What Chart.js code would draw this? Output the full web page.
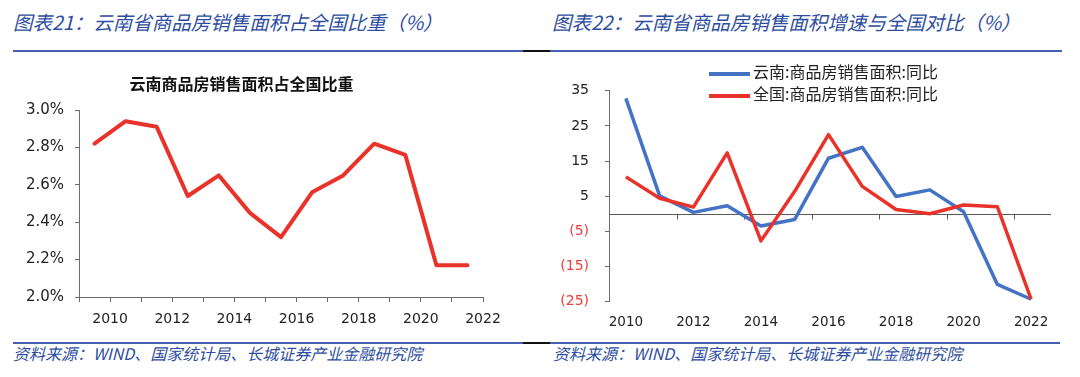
<!DOCTYPE html>
<html>
<head>
<meta charset="utf-8">
<script src="https://cdn.jsdelivr.net/npm/chart.js@4.4.0/dist/chart.umd.min.js"></script>
<style>
  body { margin: 0; background: #fff; width: 1080px; height: 377px; overflow: hidden; position: relative; font-family: "Noto Sans CJK SC", sans-serif; }
  .hd { position: absolute; top: 8px; font-size: 19.5px; font-style: italic; color: #2d4e9f; white-space: nowrap; line-height: 28px; }
  .src { position: absolute; top: 342px; font-size: 16px; font-style: italic; color: #2d4e9f; white-space: nowrap; line-height: 22px; }
  .rule { position: absolute; height: 2px; }
  canvas { position: absolute; }
  .lg { position: absolute; left: 709px; top: 60px; font-size: 16px; color: #222; white-space: nowrap; line-height: 22px; }
  .lg i { display: inline-block; width: 41px; height: 4px; vertical-align: middle; margin-right: 3px; }
</style>
</head>
<body>
<div class="hd" style="left:13px">图表21：云南省商品房销售面积占全国比重（%）</div>
<div class="hd" style="left:552px">图表22：云南省商品房销售面积增速与全国对比（%）</div>

<div class="rule" style="top:50px;left:13px;width:510px;background:#4460ae"></div>
<div class="rule" style="top:50px;left:523px;width:27px;background:#111"></div>
<div class="rule" style="top:50px;left:550px;width:512px;background:#4460ae"></div>

<canvas id="c1" width="540" height="270" style="left:0;top:60px"></canvas>
<canvas id="c2" width="540" height="280" style="left:540px;top:60px"></canvas>

<div class="lg">
  <div><i style="background:#4472c4"></i>云南:商品房销售面积:同比</div>
  <div><i style="background:#e8322a"></i>全国:商品房销售面积:同比</div>
</div>

<div class="rule" style="top:342px;left:13px;width:510px;background:#4460ae"></div>
<div class="rule" style="top:342px;left:523px;width:27px;background:#111"></div>
<div class="rule" style="top:342px;left:550px;width:510px;background:#4460ae"></div>
<div class="src" style="left:13px">资料来源：WIND、国家统计局、长城证券产业金融研究院</div>
<div class="src" style="left:553px">资料来源：WIND、国家统计局、长城证券产业金融研究院</div>

<script>
// 左图：云南商品房销售面积占全国比重（%）
const yearsL = [2010, 2011, 2012, 2013, 2014, 2015, 2016, 2017, 2018, 2019, 2020, 2021, 2022];
const shareYN = [2.82, 2.94, 2.91, 2.54, 2.65, 2.45, 2.32, 2.56, 2.65, 2.82, 2.76, 2.17, 2.17];
const yTicksL = [2.0, 2.2, 2.4, 2.6, 2.8, 3.0];
const xLabelsL = [2010, 2012, 2014, 2016, 2018, 2020, 2022];

// 右图：云南与全国商品房销售面积同比（%）
const yearsR = [2010, 2011, 2012, 2013, 2014, 2015, 2016, 2017, 2018, 2019, 2020, 2021, 2022];
const ynYoY = [32.8, 5.1, 0.4, 2.3, -3.5, -1.6, 15.8, 18.9, 4.9, 6.8, 0.6, -20.1, -24.3];
const cnYoY = [10.5, 4.4, 1.9, 17.3, -7.7, 6.4, 22.5, 7.8, 1.2, 0.0, 2.5, 2.0, -24.3];
const yTicksR = [-25, -15, -5, 5, 15, 25, 35];
const xLabelsR = [2010, 2012, 2014, 2016, 2018, 2020, 2022];

const RED = '#e8322a';
const BLUE = '#4472c4';
const AXIS = '#6b6b6b';
const NUM_FONT = 'DejaVu Sans';

new Chart(document.getElementById('c1'), {
  type: 'line',
  data: {
    datasets: [{
      // 点落在年份刻度之间
      data: yearsL.map((y, i) => ({ x: y - 0.5, y: shareYN[i] })),
      borderColor: RED,
      borderWidth: 4,
      pointRadius: 0,
      tension: 0,
      borderJoinStyle: 'round',
      borderCapStyle: 'round'
    }]
  },
  options: {
    responsive: false,
    animation: false,
    layout: { padding: { left: 0, right: 57, top: 0, bottom: 0 } },
    plugins: {
      legend: { display: false },
      tooltip: { enabled: false },
      title: {
        display: true,
        text: '云南商品房销售面积占全国比重',
        color: '#111',
        font: { family: 'Noto Sans CJK SC', size: 16, weight: 'bold' },
        padding: { top: 14.4, bottom: 16.4 }
      }
    },
    scales: {
      x: {
        type: 'linear',
        min: 2009,
        max: 2022,
        ticks: {
          stepSize: 1,
          autoSkip: false,
          maxRotation: 0,
          padding: 9,
          color: '#222',
          font: { family: NUM_FONT, size: 14 },
          callback: v => xLabelsL.includes(v) ? String(v) : ''
        },
        grid: { drawOnChartArea: false, tickLength: 5, tickColor: AXIS },
        border: { color: AXIS },
        afterFit: s => { s.height = 33; }
      },
      y: {
        min: 2.0,
        max: 3.0,
        afterBuildTicks: s => { s.ticks = yTicksL.map(v => ({ value: v })); },
        ticks: {
          padding: 11,
          color: '#222',
          font: { family: NUM_FONT, size: 15 },
          callback: v => v.toFixed(1) + '%'
        },
        grid: { drawOnChartArea: false, tickLength: 4, tickColor: AXIS },
        border: { color: AXIS },
        afterFit: s => { s.width = 79; }
      }
    }
  }
});

// 零线和零线上的小刻度
const zeroLine = {
  id: 'zeroLine',
  beforeDatasetsDraw(chart) {
    const { ctx, chartArea, scales: { x, y } } = chart;
    const y0 = Math.round(y.getPixelForValue(0)) + 0.5;
    ctx.save();
    ctx.strokeStyle = '#595959';
    ctx.lineWidth = 1;
    ctx.beginPath();
    ctx.moveTo(chartArea.left, y0);
    ctx.lineTo(chartArea.right + 3, y0);
    for (let v = 2011.5; v < 2022.5; v += 2) {
      const px = Math.round(x.getPixelForValue(v)) + 0.5;
      ctx.moveTo(px, y0);
      ctx.lineTo(px, y0 + 5);
    }
    ctx.stroke();
    ctx.restore();
  }
};

new Chart(document.getElementById('c2'), {
  type: 'line',
  data: {
    datasets: [
      {
        label: '云南:商品房销售面积:同比',
        data: yearsR.map((y, i) => ({ x: y, y: ynYoY[i] })),
        borderColor: BLUE,
        borderWidth: 3.5,
        pointRadius: 0,
        tension: 0,
        order: 2,
        borderJoinStyle: 'round'
      },
      {
        label: '全国:商品房销售面积:同比',
        data: yearsR.map((y, i) => ({ x: y, y: cnYoY[i] })),
        borderColor: RED,
        borderWidth: 3.5,
        pointRadius: 0,
        tension: 0,
        order: 1,
        borderJoinStyle: 'round'
      }
    ]
  },
  options: {
    responsive: false,
    animation: false,
    layout: { padding: { left: 0, right: 32, top: 30.7, bottom: 0 } },
    plugins: { legend: { display: false }, tooltip: { enabled: false } },
    scales: {
      x: {
        type: 'linear',
        min: 2009.5,
        max: 2022.5,
        afterBuildTicks: s => { s.ticks = xLabelsR.map(v => ({ value: v })); },
        ticks: {
          autoSkip: false,
          maxRotation: 0,
          padding: 13,
          color: '#222',
          font: { family: NUM_FONT, size: 13.5 },
          callback: v => String(v)
        },
        grid: { display: false, drawTicks: false },
        border: { display: false },
        afterFit: s => { s.height = 38.3; }
      },
      y: {
        min: -25,
        max: 35,
        afterBuildTicks: s => { s.ticks = yTicksR.map(v => ({ value: v })); },
        ticks: {
          padding: 16,
          font: { family: NUM_FONT, size: 14 },
          color: c => c.tick.value < 0 ? '#ee3b3b' : '#222',
          callback: v => v < 0 ? '(' + (-v) + ')' : String(v)
        },
        grid: { drawOnChartArea: false, tickLength: 4, tickColor: AXIS },
        border: { color: AXIS },
        afterFit: s => { s.width = 69; }
      }
    }
  },
  plugins: [zeroLine]
});
</script>
</body>
</html>
